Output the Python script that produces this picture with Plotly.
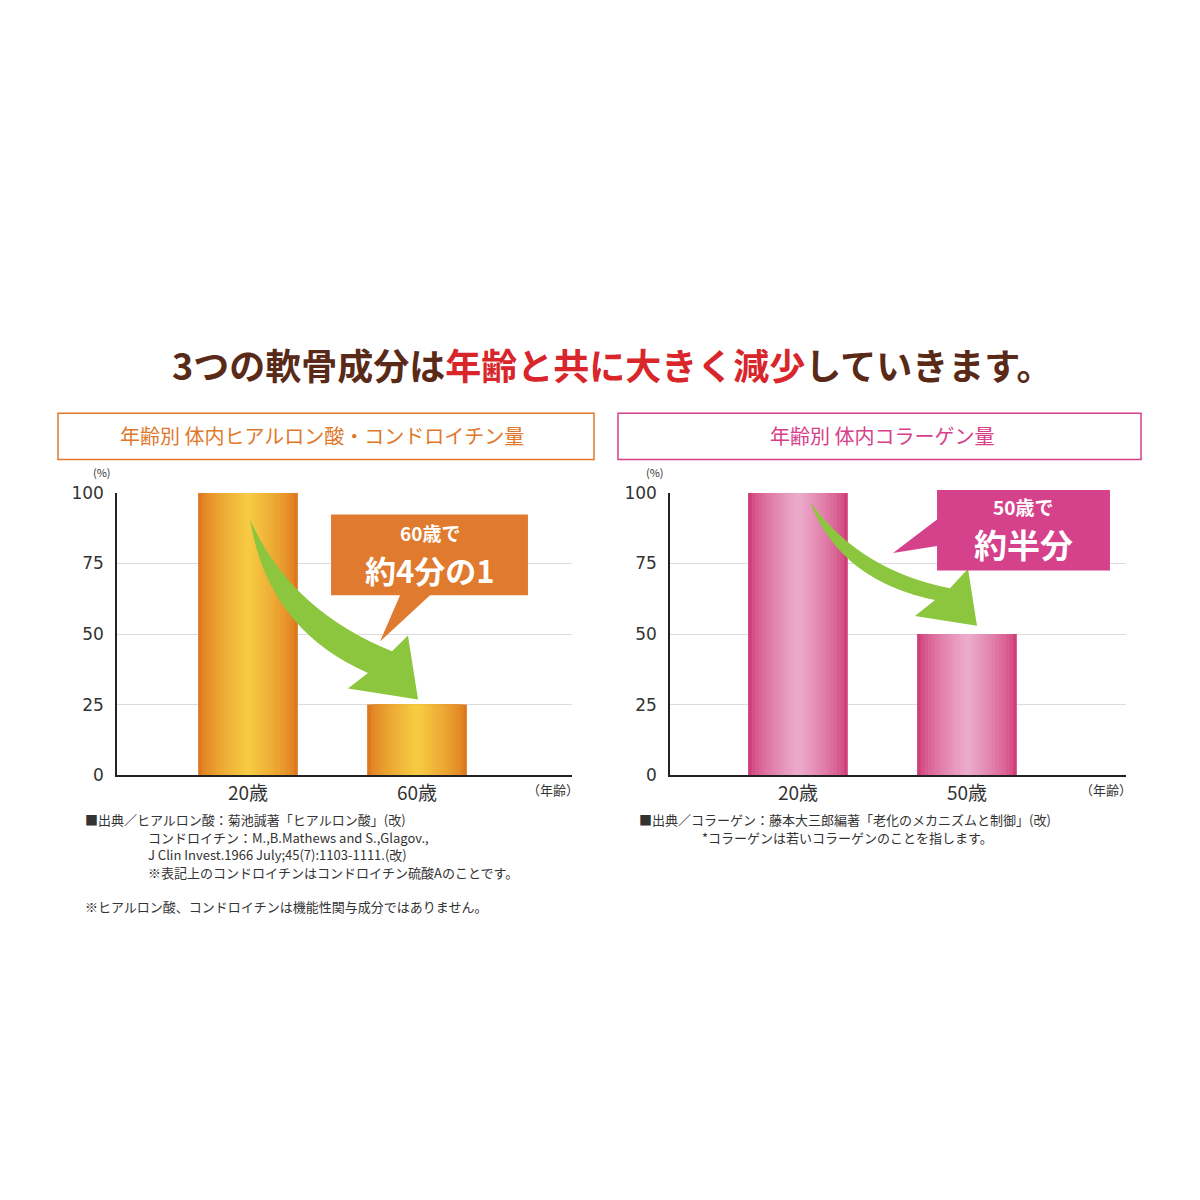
import plotly.graph_objects as go

# data
ages_left = ["20歳", "60歳"]
vals_left = [100, 25]
ages_right = ["20歳", "50歳"]
vals_right = [100, 50]
y_ticks = [0, 25, 50, 75, 100]

FONT = "Noto Sans CJK JP"
W = H = 1200
OFF = 8  # page margin compensation


def fx(x):
    return (x - OFF) / W


def fy(y):
    return 1 - (y - OFF) / H


def px(x, y):
    return fx(x), fy(y)


def path(points):
    out = []
    for cmd, *pts in points:
        s = cmd
        for (a, b) in pts:
            u, v = px(a, b)
            s += f" {u:.4f},{v:.4f}"
        out.append(s)
    return " ".join(out) + " Z"


def mix(c1, c2, t):
    return "rgb(%d,%d,%d)" % tuple(round(a + (b - a) * t) for a, b in zip(c1, c2))


fig = go.Figure()

# gradient bars: nested overlay bars, dark edges to light centre
steps = 14
for xa, vals, edge, mid in [("x", vals_left, (222, 120, 30), (246, 202, 66)),
                            ("x2", vals_right, (208, 62, 122), (236, 170, 202))]:
    for i in range(steps):
        t = i / (steps - 1)
        w = 0.59 * (1 - 0.93 * t)
        fig.add_bar(x=[1, 2], y=vals, width=w, marker=dict(color=mix(edge, mid, t ** 0.7), line_width=0),
                    xaxis=xa, yaxis="y" if xa == "x" else "y2", hoverinfo="skip")

axis_common = dict(showline=True, linecolor="#222", linewidth=1.5, ticks="", showgrid=False,
                   tickfont=dict(family=FONT, size=19, color="#333"))
yax = dict(range=[0, 100], tickvals=y_ticks, showgrid=True, gridcolor="#dcdcdc", gridwidth=1,
           showline=True, linecolor="#222", linewidth=1.5, ticks="", zeroline=False,
           tickfont=dict(family="DejaVu Sans", size=17, color="#333"), ticklabelstandoff=8)
fig.update_layout(
    width=W, height=H, margin=dict(l=0, r=0, t=0, b=0),
    paper_bgcolor="white", plot_bgcolor="white", showlegend=False, barmode="overlay",
    xaxis=dict(domain=[fx(117), fx(572)], range=[0.225, 2.917], tickvals=[1, 2], ticktext=ages_left,
               anchor="y", **axis_common),
    yaxis=dict(domain=[fy(778), fy(491)], anchor="x", **yax),
    xaxis2=dict(domain=[fx(670), fx(1126)], range=[0.243, 2.941], tickvals=[1, 2], ticktext=ages_right,
                anchor="y2", **axis_common),
    yaxis2=dict(domain=[fy(778), fy(491)], anchor="x2", **yax),
)

shapes = []
# header boxes
shapes.append(dict(type="rect", xref="paper", yref="paper", x0=fx(58), x1=fx(594), y0=fy(457), y1=fy(410),
                   line=dict(color="#e0782c", width=1.5), fillcolor="white"))
shapes.append(dict(type="rect", xref="paper", yref="paper", x0=fx(618), x1=fx(1141), y0=fy(457), y1=fy(410),
                   line=dict(color="#d6408a", width=1.5), fillcolor="white"))
# green arrows
green = "#8cc63f"
shapes.append(dict(type="path", xref="paper", yref="paper", fillcolor=green, line_width=0,
                   path=path([("M", (250, 518)), ("Q", (290, 610), (392, 652)), ("L", (408, 636)),
                              ("L", (418, 701)), ("L", (348, 690)), ("L", (368, 674)),
                              ("Q", (268, 630), (250, 518))])))
shapes.append(dict(type="path", xref="paper", yref="paper", fillcolor=green, line_width=0,
                   path=path([("M", (810, 500)), ("Q", (860, 570), (950, 588)), ("L", (968, 568)),
                              ("L", (977, 626)), ("L", (915, 616)), ("L", (935, 600)),
                              ("Q", (840, 580), (810, 500))])))
# callouts
shapes.append(dict(type="path", xref="paper", yref="paper", fillcolor="#df7a2e", line_width=0,
                   path=path([("M", (331, 513)), ("L", (528, 513)), ("L", (528, 595)), ("L", (430, 595)),
                              ("L", (380, 642)), ("L", (400, 595)), ("L", (331, 595))])))
shapes.append(dict(type="path", xref="paper", yref="paper", fillcolor="#d6418b", line_width=0,
                   path=path([("M", (937, 488)), ("L", (1110, 488)), ("L", (1110, 570)), ("L", (937, 570)),
                              ("L", (937, 545)), ("L", (893, 552)), ("L", (937, 518))])))
fig.update_layout(shapes=shapes)


def note(x, y, text, size=14, color="#333", anchor="left", bold=False, family=FONT):
    u, v = px(x, y)
    if bold:
        text = "<b>" + text + "</b>"
    fig.add_annotation(x=u, y=v, xref="paper", yref="paper", text=text, showarrow=False,
                       xanchor=anchor, yanchor="middle", font=dict(family=family, size=size, color=color))


note(612, 360, "<span style='color:#5a2a18'>3つの軟骨成分は</span><span style='color:#d8262b'>年齢と共に大きく減少</span>"
     "<span style='color:#5a2a18'>していきます。</span>", size=36, anchor="center", bold=True)
note(322, 433, "年齢別 体内ヒアルロン酸・コンドロイチン量", size=20, color="#e0782c", anchor="center")
note(882, 433, "年齢別 体内コラーゲン量", size=20, color="#d6408a", anchor="center")
note(102, 470, "(%)", size=11, anchor="center")
note(655, 470, "(%)", size=11, anchor="center")
note(553, 793, "（年齢）", size=13, anchor="center")
note(1106, 793, "（年齢）", size=13, anchor="center")
note(430, 531, "60歳で", size=19, color="white", anchor="center", bold=True)
note(430, 569, "約4分の1", size=31, color="white", anchor="center", bold=True)
note(1023, 505, "50歳で", size=19, color="white", anchor="center", bold=True)
note(1023, 543, "約半分", size=33, color="white", anchor="center", bold=True)

note(83, 823, "■出典／ヒアルロン酸：菊池誠著「ヒアルロン酸」(改)", size=13)
note(146, 841, "コンドロイチン：M.,B.Mathews and S.,Glagov.,", size=13)
note(146, 859, "J Clin Invest.1966 July;45(7):1103-1111.(改)", size=13)
note(146, 877, "※表記上のコンドロイチンはコンドロイチン硫酸Aのことです。", size=13)
note(83, 912, "※ヒアルロン酸、コンドロイチンは機能性関与成分ではありません。", size=13)
note(637, 823, "■出典／コラーゲン：藤本大三郎編著「老化のメカニズムと制御」(改)", size=13)
note(700, 841, "*コラーゲンは若いコラーゲンのことを指します。", size=13)

fig.write_html("out.html")
